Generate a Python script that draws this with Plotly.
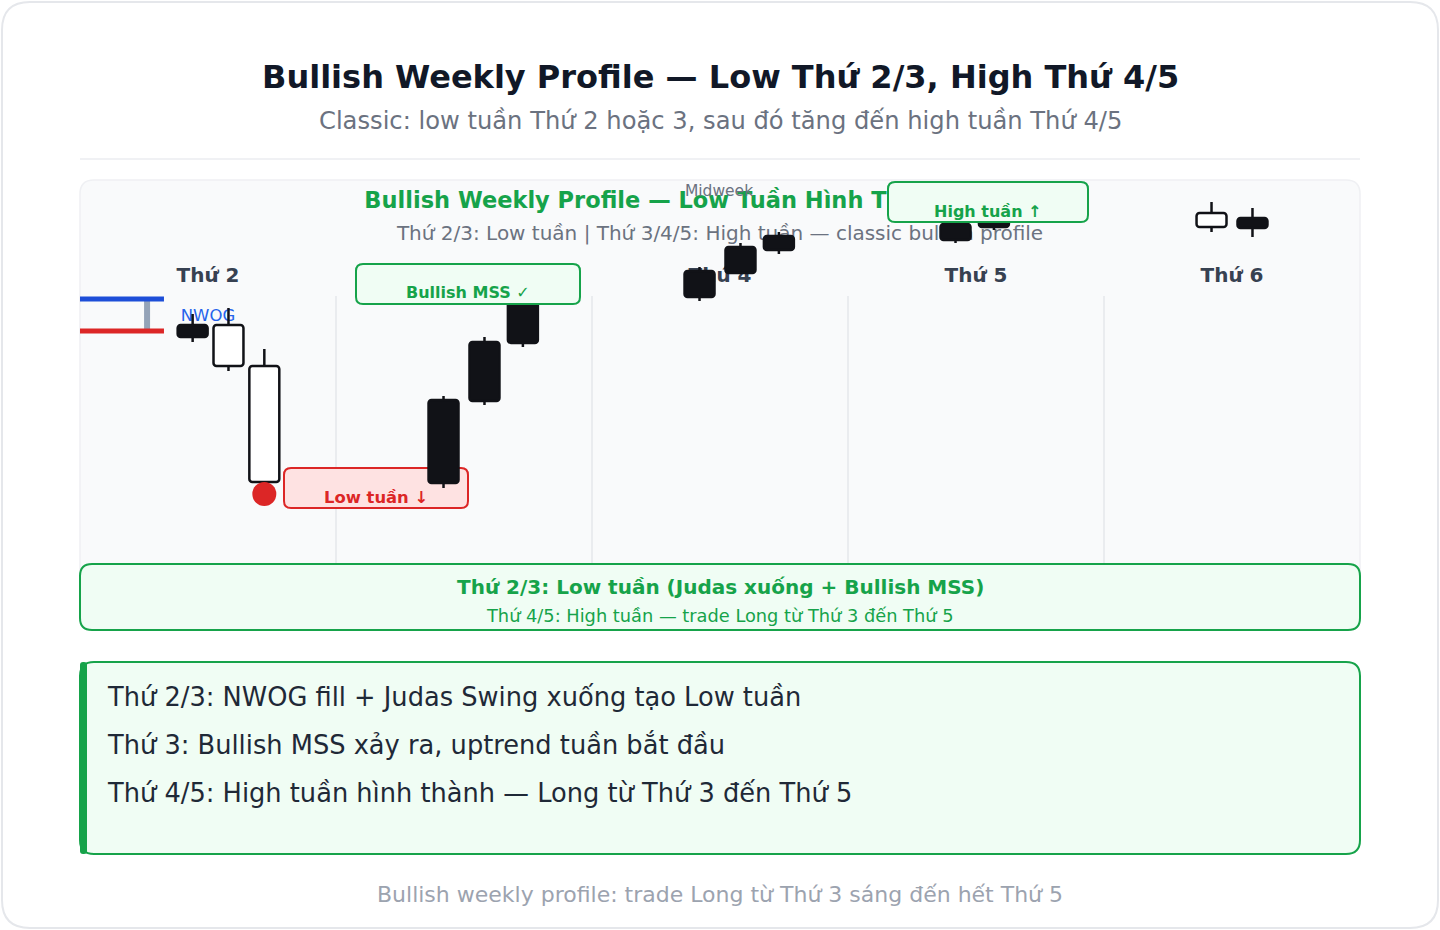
import plotly.graph_objects as go

# ---------------- data ----------------
days = ["Thứ 2", "Thứ 3", "Thứ 4", "Thứ 5", "Thứ 6"]
candle_x = [0.44, 0.58, 0.72, 1.42, 1.58, 1.73, 2.42, 2.58, 2.73, 3.42, 3.57, 4.42, 4.58]
opens  = [1114.0, 1120.0, 1099.5, 1041.0, 1082.0, 1111.0, 1134.0, 1146.0, 1157.5, 1162.5, 1169.0, 1176.0, 1168.5]
highs  = [1125.5, 1128.5, 1108.0, 1084.5, 1114.0, 1136.5, 1149.0, 1161.0, 1166.5, 1173.5, 1180.0, 1181.5, 1178.5]
lows   = [1111.5, 1097.0, 1041.5, 1038.5, 1080.0, 1109.0, 1132.0, 1145.5, 1155.5, 1161.0, 1167.5, 1166.5, 1164.0]
closes = [1120.0, 1099.5, 1041.5, 1082.5, 1111.5, 1133.5, 1147.0, 1159.0, 1164.5, 1170.5, 1176.5, 1169.0, 1173.5]
nwog_top = 1133.0      # previous week close
nwog_bottom = 1117.0   # new week open
week_low_index = 2     # candle that printed the weekly low

title = "Bullish Weekly Profile — Low Thứ 2/3, High Thứ 4/5"
subtitle = "Classic: low tuần Thứ 2 hoặc 3, sau đó tăng đến high tuần Thứ 4/5"
panel_title = "Bullish Weekly Profile — Low Tuần Hình Thành Đầu Tuần"
panel_sub = "Thứ 2/3: Low tuần | Thứ 3/4/5: High tuần — classic bullish profile"
summary_1 = "Thứ 2/3: Low tuần (Judas xuống + Bullish MSS)"
summary_2 = "Thứ 4/5: High tuần — trade Long từ Thứ 3 đến Thứ 5"
notes = [
    "Thứ 2/3: NWOG fill + Judas Swing xuống tạo Low tuần",
    "Thứ 3: Bullish MSS xảy ra, uptrend tuần bắt đầu",
    "Thứ 4/5: High tuần hình thành — Long từ Thứ 3 đến Thứ 5",
]
footer = "Bullish weekly profile: trade Long từ Thứ 3 sáng đến hết Thứ 5"

# ---------------- style ----------------
W, H = 1440, 930
FONT = "DejaVu Sans"
GREEN = "#16a34a"
GREEN_BG = "#f0fdf4"
RED = "#dc2626"
BLUE = "#1d4ed8"
DARK = "#111217"
GRAY = "#6b7280"


def px(x):
    return x / W


def py(y):
    return 1 - y / H


def rrect(x0, y0, x1, y1, r, fill, line, lw, layer="below"):
    rx, ry = r / W, r / H
    X0, X1, Y0, Y1 = px(x0), px(x1), py(y0), py(y1)
    path = (f"M{X0+rx},{Y0} L{X1-rx},{Y0} Q{X1},{Y0} {X1},{Y0-ry} "
            f"L{X1},{Y1+ry} Q{X1},{Y1} {X1-rx},{Y1} L{X0+rx},{Y1} "
            f"Q{X0},{Y1} {X0},{Y1+ry} L{X0},{Y0-ry} Q{X0},{Y0} {X0+rx},{Y0} Z")
    return dict(type="path", path=path, xref="paper", yref="paper",
                fillcolor=fill, line=dict(color=line, width=lw), layer=layer)


def hline(x0, x1, y, color, w):
    return dict(type="line", xref="paper", yref="paper", x0=px(x0), x1=px(x1),
                y0=py(y), y1=py(y), line=dict(color=color, width=w), layer="below")


def vline(x, y0, y1, color, w):
    return dict(type="line", xref="paper", yref="paper", x0=px(x), x1=px(x),
                y0=py(y0), y1=py(y1), line=dict(color=color, width=w), layer="below")


shapes = [
    rrect(2, 2, 1438, 928, 28, "#ffffff", "#e5e7eb", 2),
    hline(80, 1360, 159, "#f0f1f4", 2),
    rrect(80, 180, 1360, 600, 14, "#f9fafb", "#eff0f3", 1.5),
]
for i in range(1, 5):
    shapes.append(vline(80 + 256 * i, 296, 565, "#e5e7eb", 1.5))
shapes += [
    rrect(284, 468, 468, 508, 7, "#fee2e2", RED, 2),
    rrect(80, 564, 1360, 630, 12, GREEN_BG, GREEN, 2),
    rrect(80, 662, 1360, 854, 14, GREEN_BG, GREEN, 2),
    rrect(80, 662, 87, 854, 3, GREEN, GREEN, 0),
    rrect(356, 264, 580, 304, 7, GREEN_BG, GREEN, 2, layer="above"),
    rrect(888, 182, 1088, 222, 7, GREEN_BG, GREEN, 2, layer="above"),
]

fig = go.Figure()

# --- text under the candles (base pixel axes) ---
def text_trace(x, y, txt, size, color, bold=False):
    t = f"<b>{txt}</b>" if bold else txt
    return go.Scatter(x=[x], y=[y], mode="text", text=[t], textposition="middle center",
                      textfont=dict(family=FONT, size=size, color=color),
                      hoverinfo="skip", showlegend=False, xaxis="x", yaxis="y")


fig.add_trace(text_trace(720, 202, panel_title, 22.5, GREEN, bold=True))
fig.add_trace(text_trace(720, 235, panel_sub, 20, GRAY))
fig.add_trace(text_trace(719, 192, "Midweek", 15.5, GRAY))
for i, d in enumerate(days):
    fig.add_trace(text_trace(208 + 256 * i, 277, d, 20, "#374151", bold=True))
fig.add_trace(text_trace(208, 317, "NWOG", 16.5, "#2563eb"))

# --- NWOG gap on price axes ---
gap_x0, gap_x1, gap_bar = 0.0, 0.328, 0.262
fig.add_trace(go.Scatter(x=[gap_bar, gap_bar], y=[nwog_bottom, nwog_top], mode="lines",
                         line=dict(color="#94a3b8", width=6), hoverinfo="skip",
                         showlegend=False, xaxis="x2", yaxis="y2"))
fig.add_trace(go.Scatter(x=[gap_x0, gap_x1], y=[nwog_top, nwog_top], mode="lines",
                         line=dict(color=BLUE, width=5), hoverinfo="skip",
                         showlegend=False, xaxis="x2", yaxis="y2"))
fig.add_trace(go.Scatter(x=[gap_x0, gap_x1], y=[nwog_bottom, nwog_bottom], mode="lines",
                         line=dict(color=RED, width=5), hoverinfo="skip",
                         showlegend=False, xaxis="x2", yaxis="y2"))

# --- candles ---
bases = [min(o, c) for o, c in zip(opens, closes)]
heights = [abs(c - o) for o, c in zip(opens, closes)]
fills = [DARK if c > o else "#ffffff" for o, c in zip(opens, closes)]
fig.add_trace(go.Bar(x=candle_x, y=heights, base=bases, width=0.117,
                     marker=dict(color=fills, line=dict(color=DARK, width=2.5), cornerradius=3),
                     hoverinfo="skip", showlegend=False, xaxis="x2", yaxis="y2"))
wx, wy = [], []
for x, o, h, l, c in zip(candle_x, opens, highs, lows, closes):
    top, bot = max(o, c), min(o, c)
    if h > top:
        wx += [x, x, None]
        wy += [top, h, None]
    if l < bot:
        wx += [x, x, None]
        wy += [l, bot, None]
fig.add_trace(go.Scatter(x=wx, y=wy, mode="lines", line=dict(color=DARK, width=2.5),
                         hoverinfo="skip", showlegend=False, xaxis="x2", yaxis="y2"))
fig.add_trace(go.Scatter(x=[candle_x[week_low_index]], y=[lows[week_low_index] - 6],
                         mode="markers", marker=dict(color=RED, size=24),
                         hoverinfo="skip", showlegend=False, xaxis="x2", yaxis="y2"))

# --- annotations (on top) ---
ann = []


def a(x, y, txt, size, color, bold=False, anchor="center"):
    t = f"<b>{txt}</b>" if bold else txt
    ann.append(dict(x=x, y=y, xref="x", yref="y", text=t, showarrow=False,
                    xanchor=anchor, yanchor="middle",
                    font=dict(family=FONT, size=size, color=color)))


a(720, 77, title, 32, "#111827", bold=True)
a(720, 121, subtitle, 24.2, GRAY)
a(468, 292, "Bullish MSS ✓", 16, GREEN, bold=True)
a(376, 497, "Low tuần ↓", 16.4, RED, bold=True)
a(988, 211, "High tuần ↑", 16, GREEN, bold=True)
a(720, 587, summary_1, 20, GREEN, bold=True)
a(720, 615, summary_2, 17.8, GREEN)
for i, n in enumerate(notes):
    a(105, 697 + 48 * i, n, 25.7, "#1f2937", anchor="left")
a(720, 894, footer, 22, "#9ca3af")

fig.update_layout(
    width=W, height=H, autosize=False,
    margin=dict(l=0, r=0, t=0, b=0, pad=0),
    paper_bgcolor="#ffffff", plot_bgcolor="rgba(0,0,0,0)",
    shapes=shapes, annotations=ann, showlegend=False, hovermode=False,
    xaxis=dict(range=[0, W], visible=False, domain=[0, 1], fixedrange=True),
    yaxis=dict(range=[H, 0], visible=False, domain=[0, 1], fixedrange=True),
    xaxis2=dict(range=[-80 / 256, (W - 80) / 256], visible=False, overlaying="x",
                anchor="y2", fixedrange=True),
    yaxis2=dict(range=[1000 + (565 - H) / 2, 1000 + 565 / 2], visible=False,
                overlaying="y", anchor="x2", fixedrange=True),
    font=dict(family=FONT),
)

fig.write_html("out.html", config={"displayModeBar": False})
